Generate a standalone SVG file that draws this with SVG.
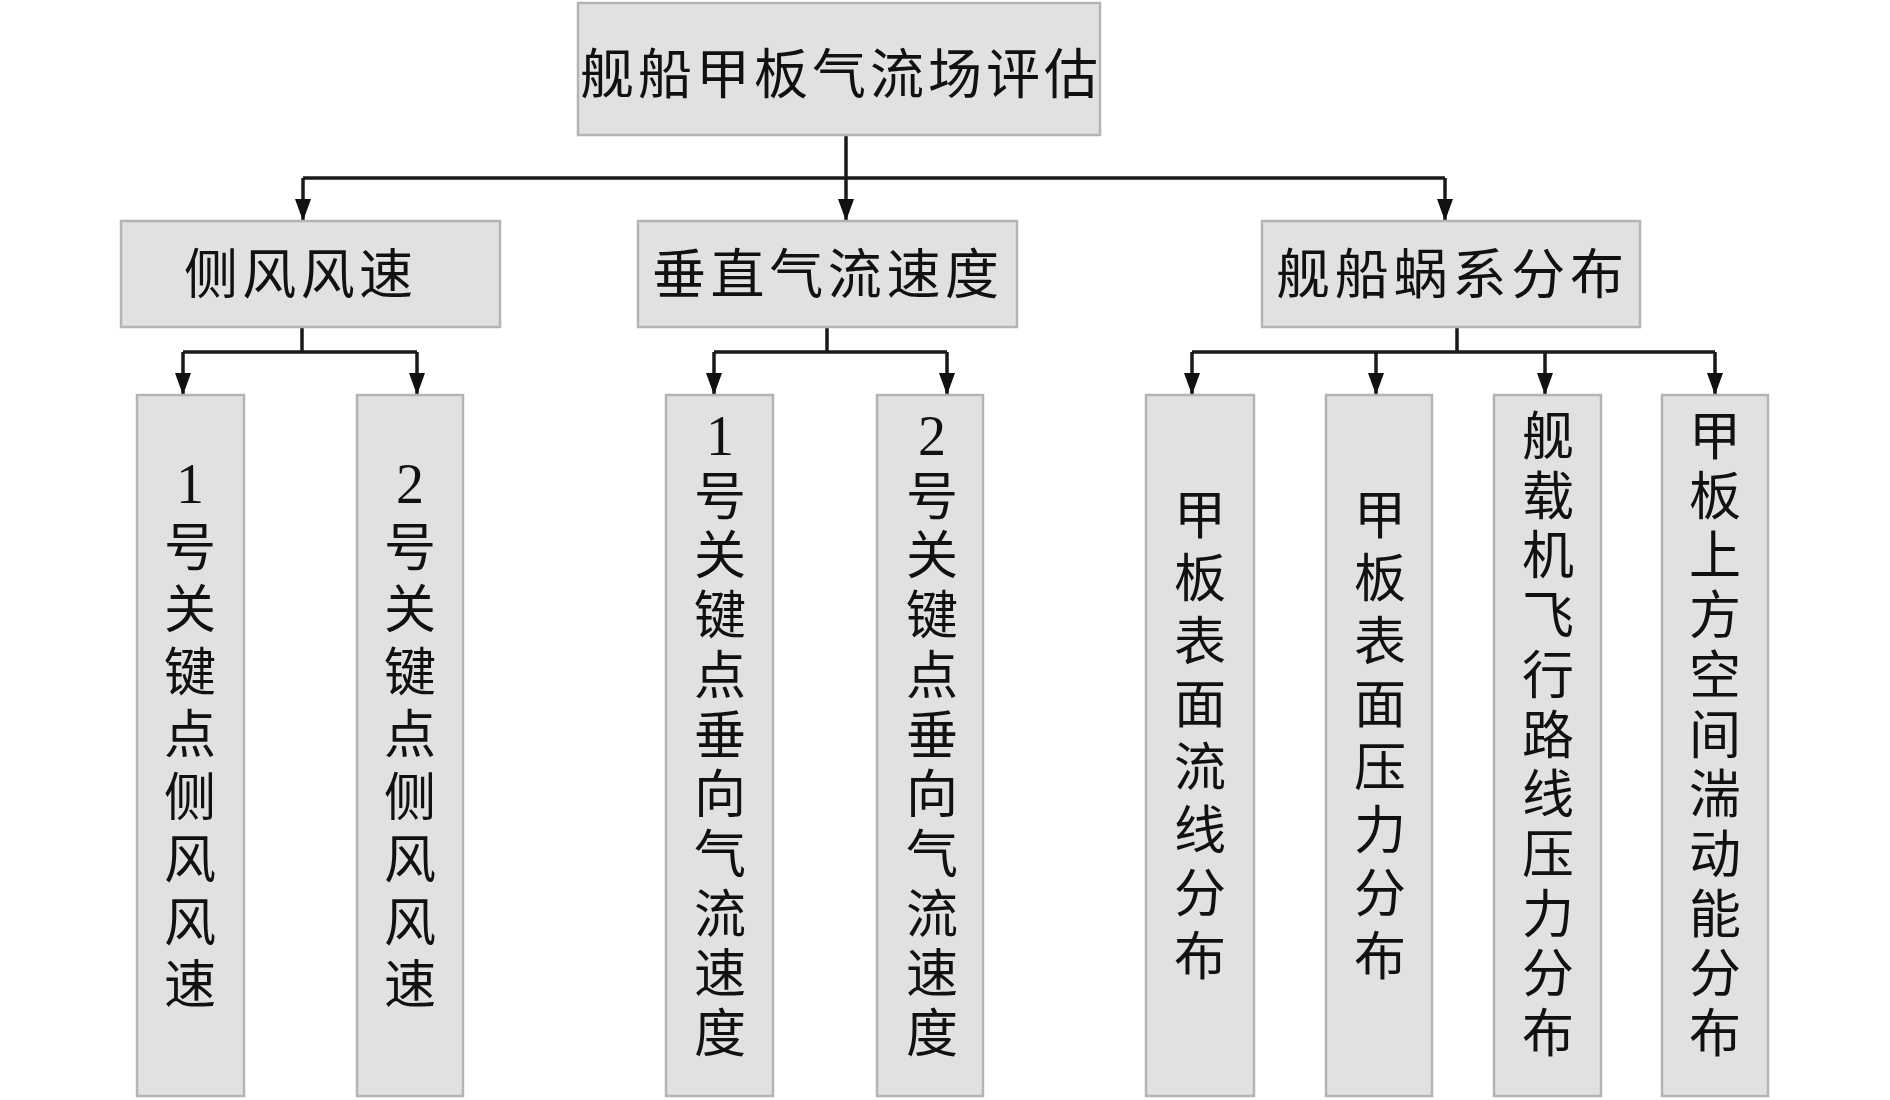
<svg xmlns="http://www.w3.org/2000/svg" width="1890" height="1100" viewBox="0 0 1890 1100">
<style>
.box{fill:#e1e1e1;stroke:#b4b4b4;stroke-width:2.5}
.t{font-family:"Noto Sans CJK SC","Liberation Serif",sans-serif;font-size:54px;fill:#111}
.v{font-family:"Noto Sans CJK SC","Liberation Serif",sans-serif;font-size:52px;fill:#111;text-anchor:middle}
.d{font-family:"Liberation Serif",serif;font-size:56px}
.c{fill:none;stroke:#1a1a1a;stroke-width:3.5}
.a{fill:none;stroke:#1a1a1a;stroke-width:3.5;marker-end:url(#ah)}
</style>
<defs>
<marker id="ah" viewBox="0 0 22 16" refX="22" refY="8" markerWidth="22" markerHeight="16" markerUnits="userSpaceOnUse" orient="auto">
<path d="M0,0 L22,8 L0,16 z" fill="#111"/>
</marker>
</defs>
<rect width="1890" height="1100" fill="#fff"/>
<g id="connectors">
<path class="c" d="M303,178 H1445"/>
<path class="a" d="M846,135 V221"/>
<path class="a" d="M303,178 V221"/>
<path class="a" d="M1445,178 V221"/>
<path class="c" d="M302,327 V352 M183,352 H417"/>
<path class="a" d="M183,352 V395"/>
<path class="a" d="M417,352 V395"/>
<path class="c" d="M827,327 V352 M714,352 H947"/>
<path class="a" d="M714,352 V395"/>
<path class="a" d="M947,352 V395"/>
<path class="c" d="M1457,327 V352 M1192,352 H1715"/>
<path class="a" d="M1192,352 V395"/>
<path class="a" d="M1376,352 V395"/>
<path class="a" d="M1545,352 V395"/>
<path class="a" d="M1715,352 V395"/>
</g>
<g id="root">
<rect class="box" x="578" y="3" width="522" height="132"/>
<text class="t" x="580" y="94" textLength="518" lengthAdjust="spacing">舰船甲板气流场评估</text>
</g>
<g id="n1">
<rect class="box" x="121" y="221" width="379" height="106"/>
<text class="t" x="184" y="294" textLength="229" lengthAdjust="spacing">侧风风速</text>
</g>
<g id="n2">
<rect class="box" x="638" y="221" width="379" height="106"/>
<text class="t" x="652" y="294" textLength="347" lengthAdjust="spacing">垂直气流速度</text>
</g>
<g id="n3">
<rect class="box" x="1262" y="221" width="378" height="106"/>
<text class="t" x="1276" y="294" textLength="348" lengthAdjust="spacing">舰船蜗系分布</text>
</g>
<g id="n11">
<rect class="box" x="137" y="395" width="107" height="701"/>
<text class="v"><tspan class="d" x="190" y="503">1</tspan><tspan x="190" y="566">号</tspan><tspan x="190" y="628">关</tspan><tspan x="190" y="691">键</tspan><tspan x="190" y="753">点</tspan><tspan x="190" y="816">侧</tspan><tspan x="190" y="878">风</tspan><tspan x="190" y="941">风</tspan><tspan x="190" y="1003">速</tspan></text>
</g>
<g id="n12">
<rect class="box" x="357" y="395" width="106" height="701"/>
<text class="v"><tspan class="d" x="410" y="503">2</tspan><tspan x="410" y="566">号</tspan><tspan x="410" y="628">关</tspan><tspan x="410" y="691">键</tspan><tspan x="410" y="753">点</tspan><tspan x="410" y="816">侧</tspan><tspan x="410" y="878">风</tspan><tspan x="410" y="941">风</tspan><tspan x="410" y="1003">速</tspan></text>
</g>
<g id="n21">
<rect class="box" x="666" y="395" width="107" height="701"/>
<text class="v"><tspan class="d" x="720" y="455">1</tspan><tspan x="720" y="515">号</tspan><tspan x="720" y="574">关</tspan><tspan x="720" y="634">键</tspan><tspan x="720" y="694">点</tspan><tspan x="720" y="754">垂</tspan><tspan x="720" y="813">向</tspan><tspan x="720" y="873">气</tspan><tspan x="720" y="933">流</tspan><tspan x="720" y="992">速</tspan><tspan x="720" y="1052">度</tspan></text>
</g>
<g id="n22">
<rect class="box" x="877" y="395" width="106" height="701"/>
<text class="v"><tspan class="d" x="932" y="455">2</tspan><tspan x="932" y="515">号</tspan><tspan x="932" y="574">关</tspan><tspan x="932" y="634">键</tspan><tspan x="932" y="694">点</tspan><tspan x="932" y="754">垂</tspan><tspan x="932" y="813">向</tspan><tspan x="932" y="873">气</tspan><tspan x="932" y="933">流</tspan><tspan x="932" y="992">速</tspan><tspan x="932" y="1052">度</tspan></text>
</g>
<g id="n31">
<rect class="box" x="1146" y="395" width="108" height="701"/>
<text class="v"><tspan x="1200" y="534">甲</tspan><tspan x="1200" y="597">板</tspan><tspan x="1200" y="660">表</tspan><tspan x="1200" y="723">面</tspan><tspan x="1200" y="786">流</tspan><tspan x="1200" y="849">线</tspan><tspan x="1200" y="912">分</tspan><tspan x="1200" y="975">布</tspan></text>
</g>
<g id="n32">
<rect class="box" x="1326" y="395" width="106" height="701"/>
<text class="v"><tspan x="1380" y="534">甲</tspan><tspan x="1380" y="597">板</tspan><tspan x="1380" y="660">表</tspan><tspan x="1380" y="723">面</tspan><tspan x="1380" y="786">压</tspan><tspan x="1380" y="849">力</tspan><tspan x="1380" y="912">分</tspan><tspan x="1380" y="975">布</tspan></text>
</g>
<g id="n33">
<rect class="box" x="1494" y="395" width="107" height="701"/>
<text class="v"><tspan x="1548" y="455">舰</tspan><tspan x="1548" y="515">载</tspan><tspan x="1548" y="574">机</tspan><tspan x="1548" y="634">飞</tspan><tspan x="1548" y="694">行</tspan><tspan x="1548" y="754">路</tspan><tspan x="1548" y="813">线</tspan><tspan x="1548" y="873">压</tspan><tspan x="1548" y="933">力</tspan><tspan x="1548" y="992">分</tspan><tspan x="1548" y="1052">布</tspan></text>
</g>
<g id="n34">
<rect class="box" x="1662" y="395" width="106" height="701"/>
<text class="v"><tspan x="1715" y="455">甲</tspan><tspan x="1715" y="515">板</tspan><tspan x="1715" y="574">上</tspan><tspan x="1715" y="634">方</tspan><tspan x="1715" y="694">空</tspan><tspan x="1715" y="754">间</tspan><tspan x="1715" y="813">湍</tspan><tspan x="1715" y="873">动</tspan><tspan x="1715" y="933">能</tspan><tspan x="1715" y="992">分</tspan><tspan x="1715" y="1052">布</tspan></text>
</g>
</svg>
